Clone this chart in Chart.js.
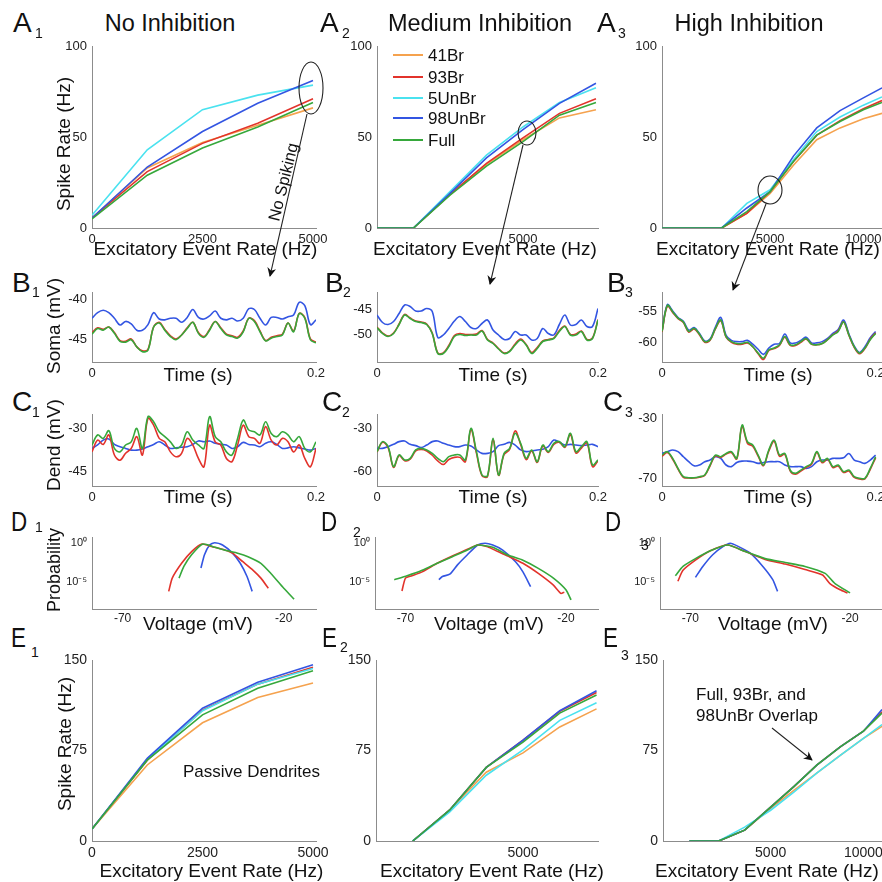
<!DOCTYPE html>
<html>
<head>
<meta charset="utf-8">
<script src="https://cdn.jsdelivr.net/npm/chart.js@4.4.1/dist/chart.umd.min.js"></script>
<style>
  body { margin:0; width:882px; height:882px; overflow:hidden; position:relative; background:#fff;
         font-family:"Liberation Sans", Arial, sans-serif; color:#111; }
  canvas { position:absolute; }
  .t { position:absolute; white-space:nowrap; line-height:1; }
  .c { transform:translateX(-50%); }
  .r { transform:translate(-50%,-50%) rotate(-90deg); }
  .n { transform:scaleX(0.8); transform-origin:0 0; }
  .leg { position:absolute; left:393px; width:30px; height:2px; }
  svg { position:absolute; left:0; top:0; }
</style>
</head>
<body>

<script>
// ---------- data ----------

// A row: spike rate vs excitatory event rate, dendrites active
const a1X = [0, 1250, 2500, 3750, 5000];
const a1Br41 = [5.5, 33, 47, 56.5, 66];
const a1Br93 = [5.5, 31, 46.5, 57.5, 71];
const a1UnBr5 = [7, 43, 65, 73, 78.5];
const a1UnBr98 = [5.5, 33.5, 53, 68.5, 81];
const a1Full = [5, 29, 44, 55.5, 69];

const a2X = [0, 1250, 2500, 3750, 5000, 6250, 7500];
const a2Br41 = [0, 0, 18.5, 35, 48.5, 60.5, 65];
const a2Br93 = [0, 0, 18.5, 35.5, 49.5, 63, 71];
const a2UnBr5 = [0, 0, 20, 40, 55.5, 69, 77];
const a2UnBr98 = [0, 0, 19, 38.5, 54, 68.5, 79.5];
const a2Full = [0, 0, 18, 34, 47.5, 62, 69];

const a3X = [-800, 2400, 3750, 5000, 6250, 7500, 8750, 10000, 11000];
const a3Br41 = [0, 0, 8, 19, 34.5, 48.5, 55, 60, 63];
const a3Br93 = [0, 0, 8, 20, 36.5, 51, 59, 65.5, 70];
const a3UnBr5 = [0, 0, 13.5, 21, 37.5, 53, 61, 67.5, 72];
const a3UnBr98 = [0, 0, 11, 20, 39.5, 55, 64.5, 71.5, 77];
const a3Full = [0, 0, 9, 20, 36.5, 51, 58.5, 65, 69];

// B / C rows: voltage traces, shared time base (s)
const timeS = [0, 0.005, 0.01, 0.015, 0.02, 0.025, 0.03, 0.035, 0.04, 0.045, 0.05, 0.055, 0.06, 0.065,
  0.07, 0.075, 0.08, 0.085, 0.09, 0.095, 0.1, 0.105, 0.11, 0.115, 0.12, 0.125, 0.13, 0.135, 0.14,
  0.145, 0.15, 0.155, 0.16, 0.165, 0.17, 0.175, 0.18, 0.185, 0.19, 0.195, 0.2];

const b1UnBr98 = [-42.4,-41.7,-41.4,-41.7,-42.4,-43.25,-42.8,-43.1,-43.9,-43.9,-43.2,-41.7,-42.5,-42.6,-42.4,-42.4,-42.9,-42.3,-41.3,-42.3,-42.5,-42.1,-41.5,-42.4,-42.6,-42.4,-42.75,-42.4,-41.2,-41.3,-42.4,-43.25,-42.3,-42.3,-42.5,-42.2,-42.0,-40.4,-40.8,-43.2,-42.6];
const b1Full = [-44.4,-43.7,-43.9,-43.5,-44.3,-45.3,-45.4,-45.1,-46.0,-46.6,-46.4,-43.5,-43.0,-43.9,-44.7,-45.1,-44.5,-43.7,-42.9,-44.3,-44.8,-43.9,-42.8,-43.7,-44.5,-44.7,-44.9,-44.1,-42.4,-42.8,-44.1,-45.25,-44.9,-44.7,-44.5,-43.0,-44.1,-41.8,-42.4,-45.1,-45.5];
const b1Br93 = [-44.2,-43.6,-43.8,-43.5,-44.2,-45.2,-45.3,-45.0,-46.0,-46.5,-46.3,-43.5,-42.9,-43.8,-44.6,-45.0,-44.5,-43.6,-42.9,-44.2,-44.7,-43.8,-42.8,-43.6,-44.4,-44.6,-44.8,-44.0,-42.4,-42.7,-44.0,-45.2,-44.8,-44.6,-44.4,-43.0,-44.0,-41.8,-42.3,-45.0,-45.4];

const b2UnBr98 = [-46.2,-47.7,-48.1,-47.5,-45.9,-44.2,-44.5,-45.4,-45.4,-44.9,-45.5,-50.7,-50.2,-48.9,-47.4,-46.5,-47.5,-48.7,-48.9,-47.9,-47.2,-49.2,-50.2,-51.1,-50.9,-49.5,-50.2,-50.2,-51.2,-50.9,-48.9,-49.9,-50.2,-48.1,-46.2,-48.2,-48.1,-47.2,-48.5,-48.5,-44.9];
const b2Full = [-48.7,-49.9,-50.5,-49.9,-48.1,-46.2,-46.9,-47.5,-47.7,-48.1,-49.9,-53.9,-53.9,-52.5,-50.5,-50.1,-50.3,-50.2,-50.2,-49.4,-51.2,-51.9,-53.0,-53.9,-53.5,-52.2,-51.2,-52.2,-53.9,-52.9,-51.5,-51.2,-50.9,-49.5,-48.5,-50.2,-50.2,-49.5,-51.2,-50.9,-47.2];
const b2Br93 = [-48.6,-49.8,-50.4,-49.8,-48.0,-46.1,-46.8,-47.4,-47.6,-48.0,-49.8,-53.8,-53.8,-52.3,-50.3,-49.9,-50.1,-50.1,-50.0,-49.3,-51.1,-51.8,-52.9,-53.8,-53.4,-52.0,-51.0,-52.1,-53.7,-52.7,-51.4,-51.1,-50.8,-49.3,-48.4,-50.1,-50.0,-49.4,-51.1,-50.8,-47.1];

const b3UnBr98 = [-58.2,-54.0,-55.0,-56.0,-56.6,-58.0,-57.6,-58.5,-59.7,-59.4,-57.5,-56.0,-58.8,-59.6,-59.8,-59.8,-59.6,-60.2,-61.0,-61.8,-60.8,-60.2,-60.1,-58.6,-60.0,-60.0,-59.6,-59.1,-60.0,-60.0,-59.8,-59.3,-58.5,-57.9,-56.4,-58.6,-60.5,-61.5,-60.6,-59.2,-58.2];
const b3Full = [-58.2,-54.1,-55.1,-56.1,-56.7,-58.2,-57.7,-58.6,-59.8,-59.5,-57.7,-56.4,-59.0,-59.8,-60.1,-60.1,-59.9,-60.6,-61.6,-62.4,-61.1,-60.8,-60.3,-59.0,-60.3,-60.3,-59.8,-59.3,-60.2,-60.3,-60.1,-59.5,-58.75,-58.2,-56.7,-58.75,-60.6,-61.6,-60.8,-59.5,-58.5];
const b3Br93 = [-58.3,-54.2,-55.2,-56.2,-56.8,-58.3,-57.8,-58.7,-59.9,-59.6,-57.8,-56.5,-59.1,-59.9,-60.2,-60.2,-60.0,-60.6,-61.7,-62.6,-61.2,-60.9,-60.4,-59.1,-60.4,-60.4,-59.9,-59.4,-60.2,-60.3,-60.1,-59.5,-58.7,-58.1,-56.7,-58.8,-60.7,-61.7,-60.9,-59.4,-58.4];

const c1UnBr98 = [-37.1,-35.9,-34.2,-33.8,-35.7,-36.5,-37.1,-37.7,-37.7,-37.3,-36.5,-35.7,-34.8,-35.9,-37.1,-36.9,-36.7,-36.5,-35.7,-34.5,-34.8,-34.5,-35.3,-35.7,-35.9,-37.1,-36.5,-35.0,-35.7,-35.9,-36.5,-35.3,-34.8,-35.7,-37.1,-36.9,-36.5,-36.9,-37.3,-37.7,-37.1];
const c1Full = [-35.9,-32.4,-33.6,-30.9,-37.1,-38.3,-35.9,-34.8,-30.1,-37.1,-26.0,-27.8,-31.3,-33.0,-34.8,-37.1,-35.9,-31.3,-34.2,-35.9,-37.1,-26.0,-33.0,-34.8,-38.3,-39.4,-33.6,-27.2,-30.7,-31.3,-32.4,-27.8,-31.9,-33.0,-31.3,-32.4,-34.8,-33.0,-37.1,-38.3,-34.8];
const c1Br93 = [-38.3,-34.2,-35.7,-32.4,-39.4,-41.2,-38.8,-37.1,-33.0,-39.4,-26.6,-29.0,-33.6,-34.8,-38.3,-40.0,-38.8,-33.6,-35.9,-40.6,-43.5,-29.0,-34.8,-35.9,-40.6,-41.7,-35.9,-29.0,-33.0,-33.6,-35.3,-29.5,-34.2,-35.9,-33.6,-34.8,-38.3,-35.9,-40.6,-43.5,-37.1];

const c2UnBr98 = [-44.2,-44.2,-43.0,-41.4,-39.5,-39.1,-41.4,-42.3,-43.7,-41.9,-39.5,-39.1,-40.7,-41.9,-43.0,-43.0,-41.9,-42.6,-45.3,-47.7,-47.7,-46.5,-42.3,-41.4,-40.0,-41.9,-45.3,-46.5,-46.0,-45.3,-44.9,-43.0,-38.4,-40.0,-41.9,-41.4,-41.9,-42.3,-41.9,-41.4,-43.0];
const c2Full = [-46.5,-39.5,-43.0,-57.0,-48.8,-52.3,-51.2,-45.3,-44.2,-45.3,-47.7,-51.2,-53.5,-50.0,-48.8,-48.8,-52.3,-30.2,-46.5,-62.8,-63.3,-37.2,-62.8,-47.7,-44.2,-33.7,-40.7,-51.2,-45.3,-53.5,-41.9,-46.5,-40.7,-39.5,-43.0,-33.7,-46.5,-43.0,-39.5,-55.8,-52.3];
const c2Br93 = [-46.8,-40.0,-43.5,-57.5,-49.3,-52.8,-51.8,-46.0,-45.0,-46.0,-49.0,-53.0,-55.5,-52.0,-50.5,-50.5,-53.5,-31.0,-47.5,-63.3,-63.8,-38.0,-63.0,-48.5,-45.0,-32.0,-41.5,-52.0,-46.0,-54.0,-42.5,-47.0,-41.5,-40.0,-43.5,-34.5,-47.5,-44.0,-40.5,-57.0,-53.0];

const c3UnBr98 = [-53.6,-52.4,-51.3,-52.4,-55.8,-59.1,-61.8,-61.3,-59.1,-58.0,-55.8,-56.9,-61.3,-62.4,-59.6,-58.7,-58.7,-59.1,-60.2,-59.6,-59.1,-59.1,-59.1,-61.3,-62.4,-62.4,-62.4,-63.6,-62.4,-59.1,-58.0,-58.0,-56.9,-56.9,-56.5,-53.6,-58.0,-59.1,-60.2,-58.0,-54.7];
const c3Full = [-54.7,-52.4,-56.9,-63.6,-69.1,-69.8,-69.8,-69.1,-68.0,-61.3,-54.7,-55.8,-53.6,-52.4,-56.9,-34.7,-45.8,-48.0,-54.7,-61.3,-51.3,-44.7,-54.7,-53.6,-64.7,-66.9,-64.7,-62.4,-60.2,-52.4,-59.1,-56.9,-62.4,-61.3,-65.8,-64.7,-69.1,-70.2,-70.2,-63.6,-55.8];
const c3Br93 = [-55.5,-53.0,-57.5,-64.0,-69.5,-70.0,-70.0,-69.5,-68.3,-61.8,-55.2,-56.3,-54.0,-53.0,-57.3,-35.5,-46.8,-48.8,-55.3,-61.8,-52.0,-45.5,-55.5,-54.2,-65.2,-67.5,-65.3,-63.0,-60.8,-53.0,-59.8,-57.5,-63.0,-62.0,-66.3,-65.3,-69.6,-70.6,-70.5,-64.2,-56.5];

// D row: voltage histograms (mV, log10 probability)
const d1Br93V = [-55.7,-54.6,-51.7,-48.6,-45.4,-42.2,-38.3,-35.9,-32.7,-29.5,-27.1,-24.8];
const d1Br93P = [-6.2,-4.5,-2.6,-1.1,-0.13,-0.47,-0.9,-1.3,-2.4,-3.5,-4.5,-5.8];
const d1FullV = [-52.5,-51.0,-48.6,-45.1,-41.4,-37.5,-34.3,-31.1,-27.1,-24.0,-20.0,-16.8];
const d1FullP = [-4.5,-3.0,-1.5,-0.13,-0.55,-1.0,-1.3,-1.75,-2.6,-3.9,-5.8,-7.2];
const d1UnBr98V = [-45.7,-44.6,-43.0,-41.4,-39.0,-35.9,-33.5,-31.4,-29.8];
const d1UnBr98P = [-3.2,-1.5,-0.26,0.04,-0.26,-1.3,-2.6,-4.3,-6.2];

const d2Br93V = [-71.1,-70,-68,-64.8,-60.1,-55.4,-50.7,-47.5,-44.4,-41.2,-38.1,-33.4,-28.6,-23.9,-21.6,-20.5];
const d2Br93P = [-6.15,-4.5,-4.2,-3.7,-2.6,-1.67,-0.8,-0.26,-0.47,-1.1,-1.67,-2.6,-3.9,-5.4,-6.45,-6.3];
const d2FullV = [-73.5,-69.5,-64.8,-60.1,-55.4,-50.7,-47.5,-42.8,-38.1,-33.4,-28.6,-23.9,-20,-18.4];
const d2FullP = [-4.7,-4.2,-3.5,-2.6,-1.75,-0.9,-0.26,-0.55,-1.55,-2.2,-3.25,-4.5,-6.0,-7.3];
const d2UnBr98V = [-59.6,-58.5,-56.2,-53.8,-50.7,-47.5,-45.2,-42.8,-39.7,-35.7,-33.4,-31.0];
const d2UnBr98P = [-4.7,-4.3,-4.0,-2.8,-1.5,-0.26,-0.04,-0.26,-0.9,-2.4,-3.7,-5.6];

const d3Br93V = [-73.9,-72.3,-68.4,-63.75,-58.3,-52.8,-46.6,-40.3,-34.1,-28.6,-26.3,-23.1,-20.8];
const d3Br93P = [-4.9,-3.5,-2.2,-1.0,-0.26,-1.1,-2.1,-2.7,-3.4,-4.1,-5.2,-6.0,-6.4];
const d3FullV = [-74.7,-72.3,-68.4,-63.75,-58.3,-52.8,-46.6,-40.3,-34.1,-27.8,-24.7,-20];
const d3FullP = [-4.2,-3.0,-2.0,-1.0,-0.26,-1.1,-2.0,-2.5,-3.0,-3.9,-5.2,-6.4];
const d3UnBr98V = [-68.4,-66.1,-63.0,-59.8,-57.5,-55.2,-51.25,-47.3,-44.2,-42.7];
const d3UnBr98P = [-4.4,-3.0,-1.5,-0.47,-0.04,-0.4,-1.3,-3.0,-4.7,-6.2];

// E row: passive dendrites
const e1X = [0, 1250, 2500, 3750, 5000];
const e1Br41 = [10, 63, 98, 119, 131];
const e1Br93 = [10, 67, 108.5, 130, 144];
const e1UnBr5 = [10, 67.5, 108, 130, 143];
const e1UnBr98 = [10, 68.5, 110, 131.5, 146];
const e1Full = [10, 67, 104.5, 126.5, 141];

const e2X = [1250, 2500, 3750, 5000, 6250, 7500];
const e2Br41 = [0, 25.5, 57, 73, 94.5, 109.5];
const e2Br93 = [0, 25.5, 61, 83.5, 107.5, 123];
const e2UnBr5 = [0, 24, 54.5, 75.5, 100, 114.5];
const e2UnBr98 = [0, 25.5, 61, 83.5, 108, 124.5];
const e2Full = [0, 25.5, 61, 82, 106, 121];

const e3X = [625, 2200, 3600, 5000, 6250, 7500, 8750, 10000, 11000];
const e3Br41 = [0, 0, 9, 27, 42, 56.5, 71, 85, 95];
const e3Br93 = [0, 0, 9, 28, 45, 63, 78, 91, 107];
const e3UnBr5 = [0, 0, 11.5, 25.5, 40.5, 56.5, 71, 85, 96.5];
const e3UnBr98 = [0, 0, 9, 28, 45, 63, 78, 91, 109];
const e3Full = [0, 0, 9, 28, 45, 63, 78, 91, 106];

// tick values
const rateTicks1 = [0, 2500, 5000];
const rateTicks2 = [5000];
const rateTicks3 = [5000, 10000];
const spikeTicksA = [0, 50, 100];
const spikeTicksE = [0, 75, 150];
const timeTicks = [0, 0.2];
const somaTicks1 = [-45, -40], somaTicks2 = [-50, -45], somaTicks3 = [-60, -55];
const dendTicks1 = [-45, -30], dendTicks2 = [-60, -30], dendTicks3 = [-70, -30];
const voltTicks = [-70, -20];
const probTicks = [-5, 0];

// ---------- drawing ----------
const COL = { br41:'#f5a24e', br93:'#e2332b', unbr5:'#4ae2ef', unbr98:'#3355e2', full:'#36a83b' };
Chart.defaults.font.family = '"Liberation Sans", Arial, sans-serif';
Chart.defaults.color = '#222';

const xy = (xs, ys) => xs.map((x, i) => ({ x, y: ys[i] }));
const line = (xs, ys, color, tension) => ({
  data: xy(xs, ys), borderColor: color, borderWidth: 1.6, pointRadius: 0, fill: false, tension: tension || 0
});
const supMap = { '0':'⁰','1':'¹','2':'²','3':'³','4':'⁴','5':'⁵','6':'⁶','7':'⁷','8':'⁸','9':'⁹','-':'⁻' };
const plain = v => String(v);
const pow10 = v => '10' + String(v).split('').map(c => supMap[c] || c).join('');

function panel(l, t, w, h, xr, yr, xt, yt, sets, o) {
  const PL = 2, YW = 48, PT = 8, PR = 28, XH = 26, PB = 2;
  const cv = document.createElement('canvas');
  cv.width = PL + YW + w + PR;
  cv.height = PT + h + XH + PB;
  cv.style.left = (l - PL - YW) + 'px';
  cv.style.top = (t - PT) + 'px';
  document.body.appendChild(cv);
  const fs = o.fs || 13;
  new Chart(cv, {
    type: 'line',
    data: { datasets: sets },
    options: {
      responsive: false, animation: false, devicePixelRatio: 1,
      layout: { padding: { left: PL, top: PT, right: PR, bottom: PB } },
      plugins: { legend: { display: false }, tooltip: { enabled: false } },
      scales: {
        x: {
          type: 'linear', min: xr[0], max: xr[1],
          afterBuildTicks: s => { s.ticks = xt.map(v => ({ value: v })); },
          afterFit: s => { s.height = XH; s.paddingLeft = 0; s.paddingRight = 0; },
          grid: { display: false, drawTicks: false },
          border: { display: true, color: '#8c8c8c', width: 1 },
          ticks: { autoSkip: false, maxRotation: 0, padding: o.xpad || 4, font: { size: fs }, callback: o.xcb || plain }
        },
        y: {
          type: 'linear', min: yr[0], max: yr[1],
          afterBuildTicks: s => { s.ticks = yt.map(v => ({ value: v })); },
          afterFit: s => { s.width = YW; s.paddingTop = 0; s.paddingBottom = 0; },
          grid: { display: false, drawTicks: false },
          border: { display: true, color: '#8c8c8c', width: 1 },
          ticks: { autoSkip: false, padding: o.ypad || 5, font: { size: o.yfs || fs }, callback: o.ycb || plain }
        }
      }
    }
  });
}

function rateSets(xs, br41, br93, unbr5, unbr98, full) {
  return [
    line(xs, full, COL.full), line(xs, unbr98, COL.unbr98), line(xs, unbr5, COL.unbr5),
    line(xs, br93, COL.br93), line(xs, br41, COL.br41)
  ];
}
function traceSets(full, br93, unbr98) {
  return [line(timeS, full, COL.full, 0.35), line(timeS, br93, COL.br93, 0.35), line(timeS, unbr98, COL.unbr98, 0.35)];
}

// row A
panel(92, 46, 224, 182, [0, 5068], [0, 100], rateTicks1, spikeTicksA,
  rateSets(a1X, a1Br41, a1Br93, a1UnBr5, a1UnBr98, a1Full), {});
panel(377, 46, 221, 182, [0, 7570], [0, 100], rateTicks2, spikeTicksA,
  rateSets(a2X, a2Br41, a2Br93, a2UnBr5, a2UnBr98, a2Full), {});
panel(662, 46, 220, 182, [-800, 11000], [0, 100], rateTicks3, spikeTicksA,
  rateSets(a3X, a3Br41, a3Br93, a3UnBr5, a3UnBr98, a3Full), {});

// row B
panel(92, 292, 224, 70, [0, 0.2], [-47.9, -39.1], timeTicks, somaTicks1, traceSets(b1Full, b1Br93, b1UnBr98), {});
panel(377, 292, 221, 70, [0, 0.2], [-55.6, -41.6], timeTicks, somaTicks2, traceSets(b2Full, b2Br93, b2UnBr98), {});
panel(662, 292, 220, 70, [0, 0.206], [-63.0, -52.0], timeTicks, somaTicks3, traceSets(b3Full, b3Br93, b3UnBr98), {});

// row C
panel(92, 414, 224, 72, [0, 0.2], [-50.2, -25.1], timeTicks, dendTicks1, traceSets(c1Full, c1Br93, c1UnBr98), {});
panel(377, 414, 221, 72, [0, 0.2], [-70.5, -20.2], timeTicks, dendTicks2, traceSets(c2Full, c2Br93, c2UnBr98), {});
panel(662, 414, 220, 72, [0, 0.206], [-75.3, -27.3], timeTicks, dendTicks3, traceSets(c3Full, c3Br93, c3UnBr98), {});

// row D
const dOpt = { fs: 12, yfs: 11, ycb: pow10, xpad: 2 };
panel(92, 537, 224, 72, [-79.5, -10], [-8.46, 0.77], voltTicks, probTicks,
  [line(d1FullV, d1FullP, COL.full, 0.2), line(d1Br93V, d1Br93P, COL.br93, 0.2), line(d1UnBr98V, d1UnBr98P, COL.unbr98, 0.2)], dOpt);
panel(375, 537, 223, 72, [-79.5, -10], [-8.46, 0.77], voltTicks, probTicks,
  [line(d2FullV, d2FullP, COL.full, 0.2), line(d2Br93V, d2Br93P, COL.br93, 0.2), line(d2UnBr98V, d2UnBr98P, COL.unbr98, 0.2)], dOpt);
panel(660, 537, 222, 72, [-79.5, -10], [-8.46, 0.77], voltTicks, probTicks,
  [line(d3FullV, d3FullP, COL.full, 0.2), line(d3Br93V, d3Br93P, COL.br93, 0.2), line(d3UnBr98V, d3UnBr98P, COL.unbr98, 0.2)], dOpt);

// row E
panel(92, 660, 224, 181, [0, 5068], [0, 150], rateTicks1, spikeTicksE,
  rateSets(e1X, e1Br41, e1Br93, e1UnBr5, e1UnBr98, e1Full), { fs: 14 });
panel(376, 660, 222, 181, [0, 7550], [0, 150], rateTicks2, spikeTicksE,
  rateSets(e2X, e2Br41, e2Br93, e2UnBr5, e2UnBr98, e2Full), { fs: 14 });
panel(663, 660, 219, 181, [-800, 11000], [0, 150], rateTicks3, spikeTicksE,
  rateSets(e3X, e3Br41, e3Br93, e3UnBr5, e3UnBr98, e3Full), { fs: 14 });

// ---------- text ----------
function txt(s, x, capTop, size, cls) {
  const d = document.createElement('div');
  d.className = 't ' + (cls || '');
  d.style.fontSize = size + 'px';
  d.style.left = x + 'px';
  d.style.top = (capTop - 0.13 * size) + 'px';
  d.textContent = s;
  document.body.appendChild(d);
  return d;
}
function rot(s, cx, cy, size) {
  const d = document.createElement('div');
  d.className = 't r';
  d.style.fontSize = size + 'px';
  d.style.left = cx + 'px';
  d.style.top = cy + 'px';
  d.textContent = s;
  document.body.appendChild(d);
}

// titles
txt('No Inhibition', 170, 15, 23.5, 'c');
txt('Medium Inhibition', 480, 15, 23.5, 'c');
txt('High Inhibition', 749, 15, 23.5, 'c');

// panel letters [letter, x, capTop, sub, subX, subTop]; D and E letters are a bit narrower
const letters = [
  ['A', 13, 13, '1', 35, 28], ['A', 320, 13, '2', 342, 28], ['A', 597, 13, '3', 618, 28],
  ['B', 12, 273, '1', 32, 287], ['B', 325, 273, '2', 343, 287], ['B', 607, 273, '3', 625, 287],
  ['C', 12, 392, '1', 32, 407], ['C', 322, 392, '2', 342, 407], ['C', 603, 392, '3', 625, 407],
  ['D', 11, 512, '1', 35, 522], ['D', 321, 512, '2', 353, 527], ['D', 605, 512, '3', 641, 540],
  ['E', 11, 628, '1', 31, 647], ['E', 322, 628, '2', 340, 642], ['E', 603, 628, '3', 621, 650]
];
letters.forEach(l => {
  const narrow = l[0] === 'D' || l[0] === 'E';
  txt(l[0], l[1], l[2], 28, narrow ? 'n' : '');
  txt(l[3], l[4], l[5], 14);
});

// axis labels
rot('Spike Rate (Hz)', 62.5, 143.5, 19);
rot('Spike Rate (Hz)', 64, 744, 19);
rot('Soma (mV)', 52.5, 325.5, 19);
rot('Dend (mV)', 52.5, 445, 19);
rot('Probability', 53.5, 570, 18);
[205.5, 485, 768].forEach(x => txt('Excitatory Event Rate (Hz)', x, 241, 19, 'c'));
[211.5, 492, 767].forEach(x => txt('Excitatory Event Rate (Hz)', x, 863, 19, 'c'));
[198, 493, 778].forEach(x => { txt('Time (s)', x, 367, 19, 'c'); txt('Time (s)', x, 489, 19, 'c'); });
[198, 489, 773].forEach(x => txt('Voltage (mV)', x, 616, 19, 'c'));

// legend (panel A2)
const legNames = ['41Br', '93Br', '5UnBr', '98UnBr', 'Full'];
const legCols = [COL.br41, COL.br93, COL.unbr5, COL.unbr98, COL.full];
const legY = [55, 77, 98, 118, 140];
legNames.forEach((n, i) => {
  const ln = document.createElement('div');
  ln.className = 'leg';
  ln.style.top = (legY[i] - 1) + 'px';
  ln.style.background = legCols[i];
  document.body.appendChild(ln);
  const d = txt(n, 428, 0, 17);
  d.style.top = (legY[i] - 8.3) + 'px';
});

// annotations
txt('Passive Dendrites', 183, 765, 17);
txt('Full, 93Br, and', 696, 688, 17);
txt('98UnBr Overlap', 696, 709, 17);
const ns = document.createElement('div');
ns.className = 't';
ns.style.fontSize = '16.5px';
ns.style.left = '283px';
ns.style.top = '182px';
ns.style.transform = 'translate(-50%,-50%) rotate(-76deg)';
ns.textContent = 'No Spiking';
document.body.appendChild(ns);
</script>

<svg width="882" height="882" style="z-index:5">
  <defs>
    <marker id="ah" viewBox="0 0 10 10" refX="9" refY="5" markerWidth="9" markerHeight="9" orient="auto-start-reverse" markerUnits="userSpaceOnUse">
      <path d="M0,0 L10,5 L0,10 L3,5 Z" fill="#111"/>
    </marker>
  </defs>
  <g fill="none" stroke="#222" stroke-width="1.1">
    <ellipse cx="311" cy="88" rx="12" ry="26"/>
    <line x1="307" y1="114" x2="270" y2="276" marker-end="url(#ah)"/>
    <ellipse cx="527" cy="133" rx="9" ry="12"/>
    <line x1="523" y1="145" x2="490" y2="284" marker-end="url(#ah)"/>
    <ellipse cx="770" cy="190" rx="12" ry="14"/>
    <line x1="766" y1="204" x2="733" y2="290" marker-end="url(#ah)"/>
    <line x1="772" y1="728" x2="812" y2="760" marker-end="url(#ah)"/>
  </g>
</svg>
</body>
</html>
